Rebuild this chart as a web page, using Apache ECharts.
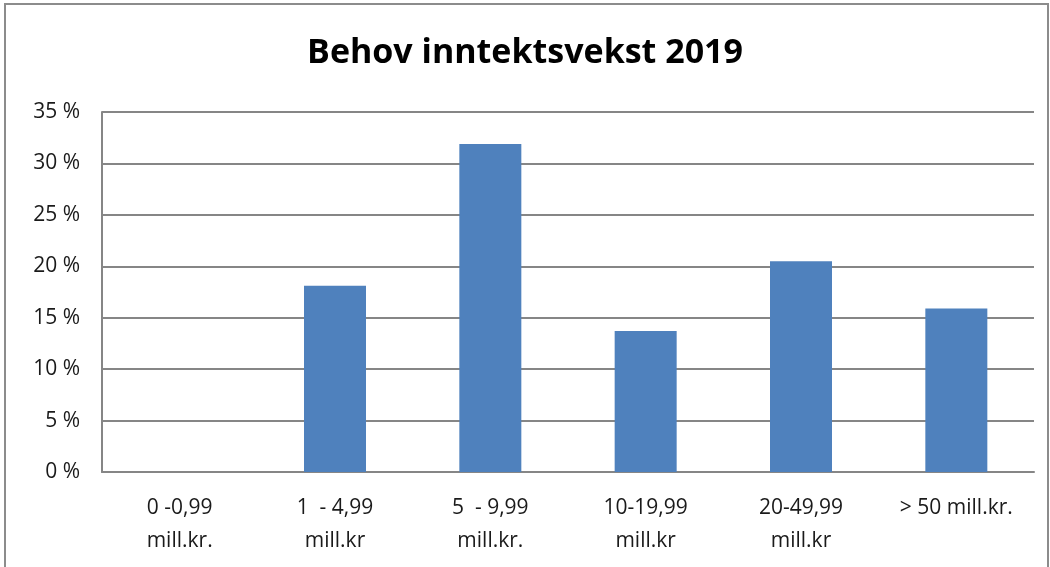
<!DOCTYPE html>
<html>
<head>
<meta charset="utf-8">
<script src="https://cdn.jsdelivr.net/npm/echarts@6/dist/echarts.min.js"></script>
<style>
html, body { margin: 0; padding: 0; background: #fff; }
#main { width: 1050px; height: 567px; }
</style>
</head>
<body>
<div id="main"></div>
<script>
// data
var categories = ['0 -0,99\nmill.kr.', '1  - 4,99\nmill.kr', '5  - 9,99\nmill.kr.', '10-19,99\nmill.kr', '20-49,99\nmill.kr', '> 50 mill.kr.'];
var values = [0, 18.1, 31.9, 13.7, 20.5, 15.9];
var yTicks = [0, 5, 10, 15, 20, 25, 30, 35];

var myChart = echarts.init(document.getElementById('main'));

var option = {
    backgroundColor: '#fff',
    animation: false,
    title: {
        text: 'Behov inntektsvekst 2019',
        left: 'center',
        top: 31,
        textStyle: {
            fontFamily: 'Open Sans',
            fontWeight: 'bold',
            fontSize: 34,
            color: '#000'
        }
    },
    graphic: [{
        type: 'rect',
        shape: { x: 5, y: 4, width: 1043, height: 620 },
        style: { fill: 'none', stroke: '#8c8c8c', lineWidth: 2 },
        silent: true
    }],
    grid: {
        left: 102,
        right: 16,
        top: 112,
        bottom: 95,
        containLabel: false
    },
    xAxis: {
        type: 'category',
        data: categories,
        axisTick: { show: false },
        axisLine: { show: true, lineStyle: { color: '#868686', width: 2 } },
        axisLabel: {
            color: '#1a1a1a',
            fontFamily: 'Open Sans',
            fontSize: 21,
            lineHeight: 33,
            margin: 20,
            interval: 0
        }
    },
    yAxis: {
        type: 'value',
        min: yTicks[0],
        max: yTicks[yTicks.length - 1],
        interval: 5,
        axisTick: { show: false },
        axisLine: { show: true, lineStyle: { color: '#868686', width: 2 } },
        splitLine: { show: true, lineStyle: { color: '#868686', width: 2 } },
        axisLabel: {
            color: '#1a1a1a',
            fontFamily: 'Open Sans',
            fontSize: 21,
            margin: 22,
            formatter: function(v) { return v + ' %'; }
        }
    },
    series: [{
        type: 'bar',
        data: values,
        barWidth: 62,
        itemStyle: { color: '#4F81BD' }
    }]
};

myChart.setOption(option);
</script>
</body>
</html>
